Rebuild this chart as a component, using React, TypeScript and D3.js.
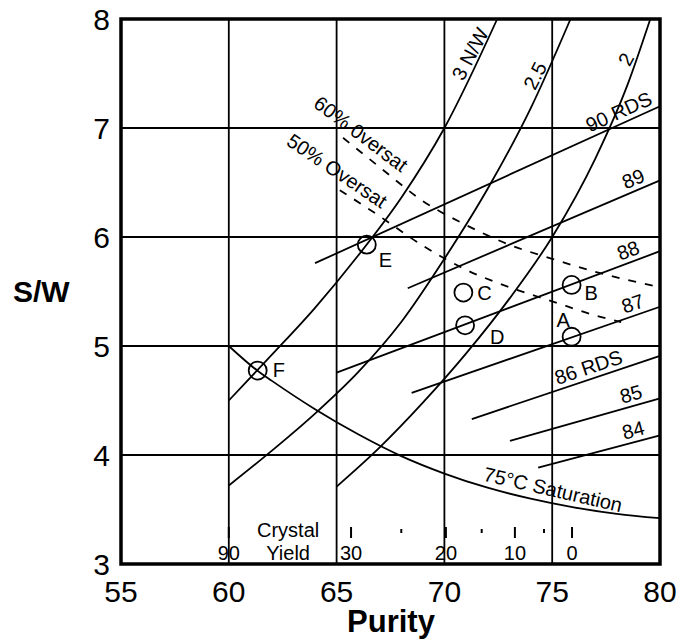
import React from "react";
import * as d3 from "d3";

// axes: purity (x) against S/W (y)
const xTicks = [55, 60, 65, 70, 75, 80];
const yTicks = [3, 4, 5, 6, 7, 8];
const xGrid = [60, 65, 70, 75];
const yGrid = [4, 5, 6, 7];

// N/W curves
const nw3 = [[60, 4.5], [62, 4.92], [64, 5.35], [66, 5.83], [68, 6.36], [70, 7.0], [72.45, 8.0]];
const nw25 = [[60, 3.72], [62, 4.04], [64, 4.38], [66, 4.76], [68, 5.22], [70, 5.8], [72, 6.44], [74, 7.18], [75.85, 8.0]];
const nw2 = [[65, 3.71], [67, 4.07], [69, 4.48], [71, 4.93], [73, 5.43], [75, 6.0], [77, 6.72], [78.5, 7.4], [79.55, 8.0]];
const nwNames = ["3 N/W", "2.5", "2"];

// 75C saturation curve
const saturation75 = [[60, 5.0], [61.35, 4.77], [62, 4.68], [64, 4.42], [66, 4.19], [68, 3.99], [70, 3.83], [72, 3.7], [74, 3.6], [76, 3.52], [78, 3.46], [80, 3.42]];

// oversaturation (dashed)
const oversat60 = [[65.3, 6.91], [67, 6.64], [69, 6.33], [71, 6.11], [73, 5.93], [75, 5.8], [77, 5.68], [80, 5.54]];
const oversat50 = [[65.15, 6.43], [67, 6.19], [69, 5.92], [71, 5.7], [73, 5.54], [75, 5.41], [77, 5.28], [78.2, 5.22]];

// RDS lines
const rdsNames = ["90 RDS", "89", "88", "87", "86 RDS", "85", "84"];
const rdsStart = [[64.0, 5.76], [68.3, 5.53], [65.0, 4.755], [68.48, 4.57], [71.27, 4.33], [73.04, 4.13], [74.35, 3.885]];
const rdsEnd = [[80, 7.2], [80, 6.52], [80, 5.87], [80, 5.36], [80, 4.91], [80, 4.52], [80, 4.18]];
const rdsLabelAt = [79.8, 79.45, 79.2, 79.4, 78.4, 79.3, 79.4];

// marked points
const pointNames = ["A", "B", "C", "D", "E", "F"];
const pointX = [75.9, 75.9, 70.88, 70.96, 66.4, 61.34];
const pointY = [5.085, 5.56, 5.49, 5.19, 5.93, 4.775];

// crystal yield scale along the bottom
const yieldValues = [90, 30, 25, 20, 15, 10, 5, 0];
const yieldPurity = [60, 65.67, 68.0, 70.07, 71.73, 73.27, 74.62, 75.92];
const yieldLabelled = [90, 30, 20, 10, 0];

const FONT = "'Liberation Sans', Arial, Helvetica, sans-serif";

export default function App() {
  const W = 691;
  const H = 641;
  const x = d3.scaleLinear().domain([55, 80]).range([121, 660]);
  const y = d3.scaleLinear().domain([3, 8]).range([564, 19]);
  const line = d3
    .line<number[]>()
    .x((d) => x(d[0]))
    .y((d) => y(d[1]))
    .curve(d3.curveMonotoneX);

  // label offsets for the point letters, in px
  const letterOffset = [[-15, -10], [13, 15], [14, 7], [25, 19], [12, 22], [15, 6]];

  const rds = rdsNames.map((name, i) => {
    const x0 = x(rdsStart[i][0]);
    const y0 = y(rdsStart[i][1]);
    const x1 = x(rdsEnd[i][0]);
    const y1 = y(rdsEnd[i][1]);
    const angle = (Math.atan2(y1 - y0, x1 - x0) * 180) / Math.PI;
    const lx = x(rdsLabelAt[i]);
    const ly = y0 + ((lx - x0) / (x1 - x0)) * (y1 - y0);
    return { name, x0, y0, x1, y1, angle, lx, ly };
  });

  const nwLabelPos = [[71.19, 7.68], [74.2, 7.48], [78.42, 7.63]];
  const nwLabelRot = [-62, -63, -62];
  const sw = 1.8;

  return (
    <svg
      width={W}
      height={H}
      style={{ position: "absolute", left: 0, top: 0, background: "#fff" }}
      fontFamily={FONT}
    >
      <rect x={0} y={0} width={W} height={H} fill="#fff" />

      {/* grid */}
      {xGrid.map((v) => (
        <line key={"gx" + v} x1={x(v)} x2={x(v)} y1={y(8)} y2={y(3)} stroke="#000" strokeWidth={sw} />
      ))}
      {yGrid.map((v) => (
        <line key={"gy" + v} x1={x(55)} x2={x(80)} y1={y(v)} y2={y(v)} stroke="#000" strokeWidth={sw} />
      ))}

      {/* curves */}
      {[nw3, nw25, nw2, saturation75].map((d, i) => (
        <path key={"c" + i} d={line(d) || ""} fill="none" stroke="#000" strokeWidth={sw} />
      ))}
      {[oversat60, oversat50].map((d, i) => (
        <path key={"o" + i} d={line(d) || ""} fill="none" stroke="#000" strokeWidth={sw} strokeDasharray="8,9" />
      ))}

      {/* RDS lines */}
      {rds.map((r) => (
        <g key={r.name}>
          <line x1={r.x0} y1={r.y0} x2={r.x1} y2={r.y1} stroke="#000" strokeWidth={sw} />
          <text
            transform={`translate(${r.lx},${r.ly}) rotate(${r.angle})`}
            y={-5}
            textAnchor="end"
            fontSize={20}
          >
            {r.name}
          </text>
        </g>
      ))}

      {/* N/W labels */}
      {nwNames.map((n, i) => (
        <text
          key={n}
          transform={`translate(${x(nwLabelPos[i][0])},${y(nwLabelPos[i][1])}) rotate(${nwLabelRot[i]})`}
          textAnchor="middle"
          dominantBaseline="central"
          fontSize={20}
        >
          {n}
        </text>
      ))}

      {/* oversaturation and saturation labels */}
      <text
        transform={`translate(${x(66.13)},${y(6.946)}) rotate(37)`}
        textAnchor="middle"
        dominantBaseline="central"
        fontSize={20}
      >
        60% 0versat
      </text>
      <text
        transform={`translate(${x(65.02)},${y(6.607)}) rotate(34)`}
        textAnchor="middle"
        dominantBaseline="central"
        fontSize={20}
      >
        50% Oversat
      </text>
      <text
        transform={`translate(${x(75.04)},${y(3.683)}) rotate(13)`}
        textAnchor="middle"
        dominantBaseline="central"
        fontSize={20}
      >
        75°C Saturation
      </text>

      {/* points */}
      {pointNames.map((n, i) => (
        <g key={n}>
          <circle cx={x(pointX[i])} cy={y(pointY[i])} r={9} fill="none" stroke="#000" strokeWidth={sw} />
          <text x={x(pointX[i]) + letterOffset[i][0]} y={y(pointY[i]) + letterOffset[i][1]} fontSize={20}>
            {n}
          </text>
        </g>
      ))}

      {/* crystal yield scale */}
      {yieldValues.map((v, i) => {
        const big = yieldLabelled.includes(v);
        return (
          <g key={"yv" + v}>
            <line
              x1={x(yieldPurity[i])}
              x2={x(yieldPurity[i])}
              y1={big ? 527 : 529}
              y2={big ? 538 : 533}
              stroke="#000"
              strokeWidth={2}
            />
            {big && (
              <text x={x(yieldPurity[i])} y={560} textAnchor="middle" fontSize={20}>
                {v}
              </text>
            )}
          </g>
        );
      })}
      <text x={x(62.75)} y={537} textAnchor="middle" fontSize={20}>
        Crystal
      </text>
      <text x={x(62.75)} y={560} textAnchor="middle" fontSize={20}>
        Yield
      </text>

      {/* frame */}
      <rect x={x(55)} y={y(8)} width={x(80) - x(55)} height={y(3) - y(8)} fill="none" stroke="#000" strokeWidth={3.5} />

      {/* axes labels */}
      {xTicks.map((v) => (
        <text key={"xt" + v} x={x(v)} y={602} textAnchor="middle" fontSize={30}>
          {v}
        </text>
      ))}
      {yTicks.map((v) => (
        <text key={"yt" + v} x={110} y={y(v) + 11} textAnchor="end" fontSize={30}>
          {v}
        </text>
      ))}
      <text x={391} y={632} textAnchor="middle" fontSize={31} fontWeight="bold">
        Purity
      </text>
      <text x={13} y={302} fontSize={30} fontWeight="bold">
        S/W
      </text>
    </svg>
  );
}
